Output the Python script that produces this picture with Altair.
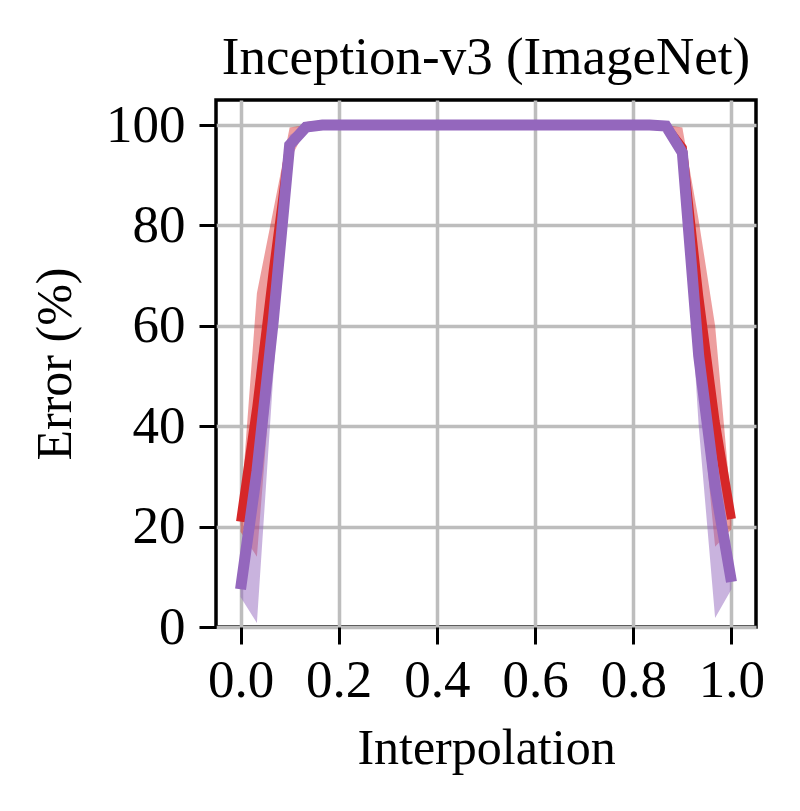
import altair as alt
import pandas as pd

# x positions (interpolation coefficient, steps of 1/30)
x_vals = [0.0, 0.0333, 0.0667, 0.1, 0.1333, 0.1667, 0.2, 0.2333, 0.2667, 0.3,
          0.3333, 0.3667, 0.4, 0.4333, 0.4667, 0.5, 0.5333, 0.5667, 0.6, 0.6333,
          0.6667, 0.7, 0.7333, 0.7667, 0.8, 0.8333, 0.8667, 0.9, 0.9333, 0.9667, 1.0]

red_mean = [21.0, 44.0, 71.0, 96.0, 99.7, 100, 100, 100, 100, 100,
            100, 100, 100, 100, 100, 100, 100, 100, 100, 100,
            100, 100, 100, 100, 100, 100, 99.7, 95.5, 66.0, 41.0, 21.5]
red_lo = [19.0, 14.0, 55.0, 93.0, 99.2, 100, 100, 100, 100, 100,
          100, 100, 100, 100, 100, 100, 100, 100, 100, 100,
          100, 100, 100, 100, 100, 100, 99.2, 92.0, 50.0, 16.0, 19.5]
red_hi = [23.0, 66.5, 83.0, 99.5, 100, 100, 100, 100, 100, 100,
          100, 100, 100, 100, 100, 100, 100, 100, 100, 100,
          100, 100, 100, 100, 100, 100, 100, 99.5, 81.0, 60.0, 23.5]

purple_mean = [7.5, 31.0, 61.0, 96.0, 99.6, 100, 100, 100, 100, 100,
               100, 100, 100, 100, 100, 100, 100, 100, 100, 100,
               100, 100, 100, 100, 100, 100, 99.8, 94.5, 54.0, 28.0, 9.0]
purple_lo = [6.0, 0.8, 50.0, 94.0, 99.3, 100, 100, 100, 100, 100,
             100, 100, 100, 100, 100, 100, 100, 100, 100, 100,
             100, 100, 100, 100, 100, 100, 99.3, 92.0, 40.0, 1.8, 7.5]
purple_hi = [9.0, 52.0, 74.0, 98.0, 100, 100, 100, 100, 100, 100,
             100, 100, 100, 100, 100, 100, 100, 100, 100, 100,
             100, 100, 100, 100, 100, 100, 100, 97.0, 64.0, 45.0, 10.5]

x_ticks = [0.0, 0.2, 0.4, 0.6, 0.8, 1.0]
y_ticks = [0, 20, 40, 60, 80, 100]

RED = "#d62728"
PURPLE = "#9467bd"

df = pd.DataFrame({
    "x": x_vals,
    "red_mean": red_mean, "red_lo": red_lo, "red_hi": red_hi,
    "purple_mean": purple_mean, "purple_lo": purple_lo, "purple_hi": purple_hi,
})

xs = alt.Scale(domain=[-0.05, 1.05], nice=False, zero=False)
ys = alt.Scale(domain=[0, 105], nice=False)

x_axis = alt.Axis(values=x_ticks, format=".1f", title="Interpolation",
                  grid=True, labelPadding=10, titlePadding=16)
y_axis = alt.Axis(values=y_ticks, format="d", title="Error (%)",
                  grid=True, labelPadding=14, titlePadding=25)

base = alt.Chart(df)

red_band = base.mark_area(color=RED, opacity=0.45).encode(
    x=alt.X("x:Q", scale=xs, axis=x_axis),
    y=alt.Y("red_lo:Q", scale=ys, axis=y_axis),
    y2="red_hi:Q",
)
purple_band = base.mark_area(color=PURPLE, opacity=0.5).encode(
    x=alt.X("x:Q", scale=xs),
    y=alt.Y("purple_lo:Q", scale=ys),
    y2="purple_hi:Q",
)
red_line = base.mark_line(color=RED, strokeWidth=9).encode(
    x=alt.X("x:Q", scale=xs),
    y=alt.Y("red_mean:Q", scale=ys),
)
purple_line = base.mark_line(color=PURPLE, strokeWidth=11).encode(
    x=alt.X("x:Q", scale=xs),
    y=alt.Y("purple_mean:Q", scale=ys),
)

chart = alt.layer(red_band, purple_band, red_line, purple_line).properties(
    width=540,
    height=527,
    title=alt.TitleParams("Inception-v3 (ImageNet)", fontSize=53,
                          fontWeight="normal", offset=14, anchor="middle"),
    padding={"left": 22, "top": 24, "right": 5, "bottom": 5},
).configure(
    font="Liberation Serif",
).configure_view(
    stroke="black", strokeWidth=3.5,
).configure_axis(
    labelFontSize=53, titleFontSize=50, labelColor="black", titleColor="black",
    titleFontWeight="normal", labelFont="Liberation Serif", titleFont="Liberation Serif",
    tickSize=17, tickWidth=3, tickColor="black", domain=False,
    gridColor="#bdbdbd", gridWidth=3.5, gridOpacity=1,
).configure_title(
    font="Liberation Serif", color="black",
)

chart.save("out.html", embed_options={"renderer": "svg", "actions": False})
